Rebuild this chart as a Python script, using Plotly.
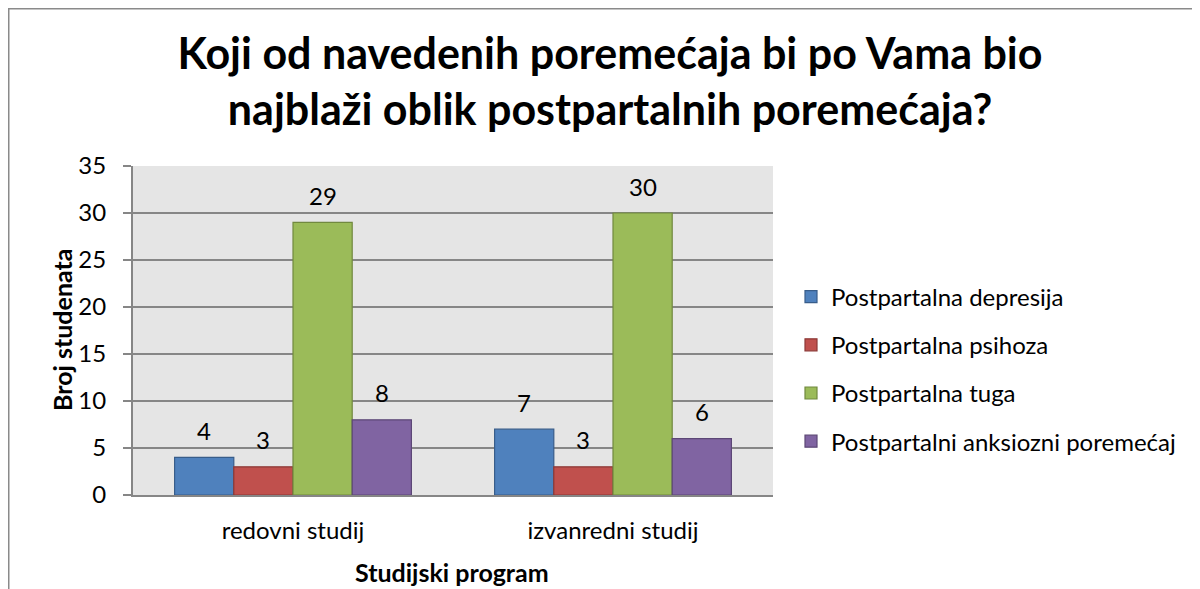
import plotly.graph_objects as go

categories = ["redovni studij", "izvanredni studij"]
series_names = ["Postpartalna depresija", "Postpartalna psihoza", "Postpartalna tuga",
                "Postpartalni anksiozni poremećaj"]
depresija = [4, 7]
psihoza = [3, 3]
tuga = [29, 30]
anksiozni = [8, 6]
series_values = [depresija, psihoza, tuga, anksiozni]

fill_colors = ["#4f81bd", "#c0504d", "#9bbb59", "#8064a2"]
line_colors = ["#385d8a", "#8c3836", "#71893f", "#5c4776"]

FONT = "Lato"
bargap = 0.26

# page body has an 8px margin: figure coords = reference coords - 8
OFF = 8
W, H = 1200 - OFF, 589 - OFF
L, T = 133 - OFF, 166 - OFF
R = W - (773 - OFF)
B = H - (495 - OFF)
pw, ph = W - L - R, H - T - B


def px_x(p):
    return (p - OFF - L) / pw


def px_y(p):
    return (H - B - (p - OFF)) / ph


fig = go.Figure()
for i, (name, vals) in enumerate(zip(series_names, series_values)):
    fig.add_trace(go.Bar(
        name=name, x=categories, y=vals,
        marker=dict(color=fill_colors[i], line=dict(color=line_colors[i], width=1.2)),
        legendgroup=name,
    ))

# data labels above bars
n = len(series_names)
bw = (1 - bargap) / n
annotations = []
for i, vals in enumerate(series_values):
    for j, v in enumerate(vals):
        annotations.append(dict(
            x=j - (1 - bargap) / 2 + bw * (i + 0.5), y=v, xref="x", yref="y",
            text=str(v), showarrow=False, yshift=27,
            font=dict(family=FONT, size=24, color="#000000"),
        ))

annotations.append(dict(
    x=px_x(62), y=px_y(330), xref="paper", yref="paper", text="<b>Broj studenata</b>",
    textangle=-90, showarrow=False, xanchor="center", yanchor="middle",
    font=dict(family=FONT, size=25, color="#000000"),
))
annotations.append(dict(
    x=px_x(452), y=px_y(572), xref="paper", yref="paper", text="<b>Studijski program</b>",
    showarrow=False, xanchor="center", yanchor="middle",
    font=dict(family=FONT, size=25, color="#000000"),
))

shapes = [
    dict(type="line", xref="paper", yref="paper", x0=px_x(8), x1=px_x(1210),
         y0=px_y(8.75), y1=px_y(8.75), line=dict(color="#8a8a8a", width=1.5)),
    dict(type="line", xref="paper", yref="paper", x0=px_x(8.75), x1=px_x(8.75),
         y0=px_y(8), y1=px_y(610), line=dict(color="#8a8a8a", width=1.5)),
]

fig.update_layout(
    width=W, height=H,
    margin=dict(l=L, r=R, t=T, b=B, autoexpand=False),
    paper_bgcolor="#ffffff", plot_bgcolor="#e5e5e5",
    barmode="group", bargap=bargap, bargroupgap=0,
    title=dict(
        text="<b>Koji od navedenih poremećaja bi po Vama bio<br>najblaži oblik postpartalnih poremećaja?</b>",
        x=(610 - OFF) / W, xanchor="center",
        y=1 - 61 / H, yanchor="middle",
        font=dict(family=FONT, size=43, color="#000000"),
    ),
    font=dict(family=FONT, size=24, color="#000000"),
    legend=dict(
        x=px_x(791), y=px_y(369), xanchor="left", yanchor="middle",
        font=dict(family=FONT, size=24, color="#000000"),
        tracegroupgap=14, bgcolor="rgba(0,0,0,0)",
    ),
    annotations=annotations,
    shapes=shapes,
)
fig.update_xaxes(
    showgrid=False, showline=True, linecolor="#868686", linewidth=2,
    ticks="", tickfont=dict(family=FONT, size=24, color="#000000"),
    ticklabelstandoff=13,
)
fig.update_yaxes(
    range=[0, 35], dtick=5, showgrid=True, gridcolor="#868686", gridwidth=2,
    showline=True, linecolor="#868686", linewidth=2,
    ticks="outside", ticklen=8, tickcolor="#868686", tickwidth=2,
    tickfont=dict(family=FONT, size=24, color="#000000"),
    ticklabelstandoff=12,
    zeroline=False,
)

fig.write_html("out.html")
